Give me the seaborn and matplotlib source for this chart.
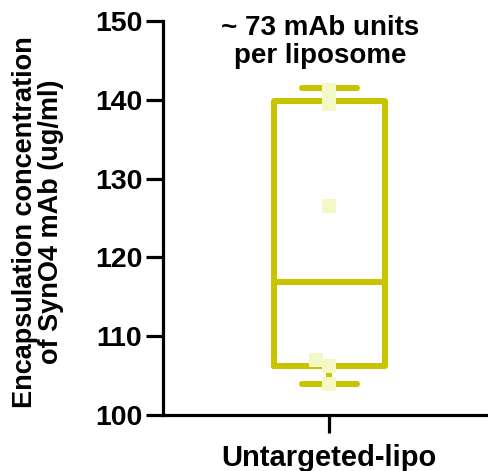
import matplotlib
matplotlib.use("Agg")
import matplotlib.pyplot as plt
import seaborn as sns
import pandas as pd

# Group label and the individual measurements (ug/ml)
group = "Untargeted-lipo"
measurements = [103.9, 106.2, 107.0, 126.5, 139.5, 141.3]

# Box summary: min, Q1, median, Q3, max
box_summary = [103.9, 106.2, 116.9, 139.9, 141.5]

y_ticks = [100, 110, 120, 130, 140, 150]
y_label = "Encapsulation concentration\nof SynO4 mAb (ug/ml)"
note = "~ 73 mAb units\nper liposome"

box_color = "#c8c400"
point_color = "#f3f8c6"

sns.set_style("white")
plt.rcParams["font.family"] = ["Liberation Sans", "DejaVu Sans"]
plt.rcParams["font.weight"] = "bold"
for key in ["text.color", "axes.labelcolor", "xtick.color", "ytick.color"]:
    plt.rcParams[key] = "black"

fig = plt.figure(figsize=(4.89, 4.71), dpi=100)
ax = fig.add_axes([163 / 489, 56 / 471, 326 / 489, 394 / 471])

box_df = pd.DataFrame({"group": [group] * len(box_summary), "value": box_summary})
pts_df = pd.DataFrame({"group": [group] * len(measurements), "value": measurements})

sns.boxplot(data=box_df, x="group", y="value", ax=ax, fill=False,
            color=box_color, linecolor=box_color, linewidth=4.3,
            width=0.34, whis=(0, 100), showfliers=False)
sns.swarmplot(data=pts_df, x="group", y="value", ax=ax, marker="s",
              size=10, color=point_color, linewidth=0, zorder=5)

ax.set_ylim(100, 150)
ax.set_xlim(-0.51, 0.49)
ax.set_yticks(y_ticks)
ax.set_yticklabels([str(t) for t in y_ticks], fontsize=20.5, fontweight="bold")
for lbl in ax.get_xticklabels():
    lbl.set_fontsize(21)
    lbl.set_fontweight("bold")

ax.set_xlabel("")
ax.set_ylabel(y_label, fontsize=19.5, fontweight="bold", linespacing=1.0)
ax.yaxis.set_label_coords(-0.305, 0.49)

for side in ["top", "right"]:
    ax.spines[side].set_visible(False)
for side in ["left", "bottom"]:
    ax.spines[side].set_linewidth(2.3)
    ax.spines[side].set_color("black")
ax.tick_params(axis="y", direction="out", length=12, width=2.3,
               color="black", pad=3, left=True)
ax.tick_params(axis="x", direction="out", length=13, width=2.3,
               color="black", pad=8, bottom=True)

ax.text(-0.028, 147.3, note, ha="center", va="center", fontsize=20,
        fontweight="bold", linespacing=1.12)

fig.savefig("out.png", dpi=100)
